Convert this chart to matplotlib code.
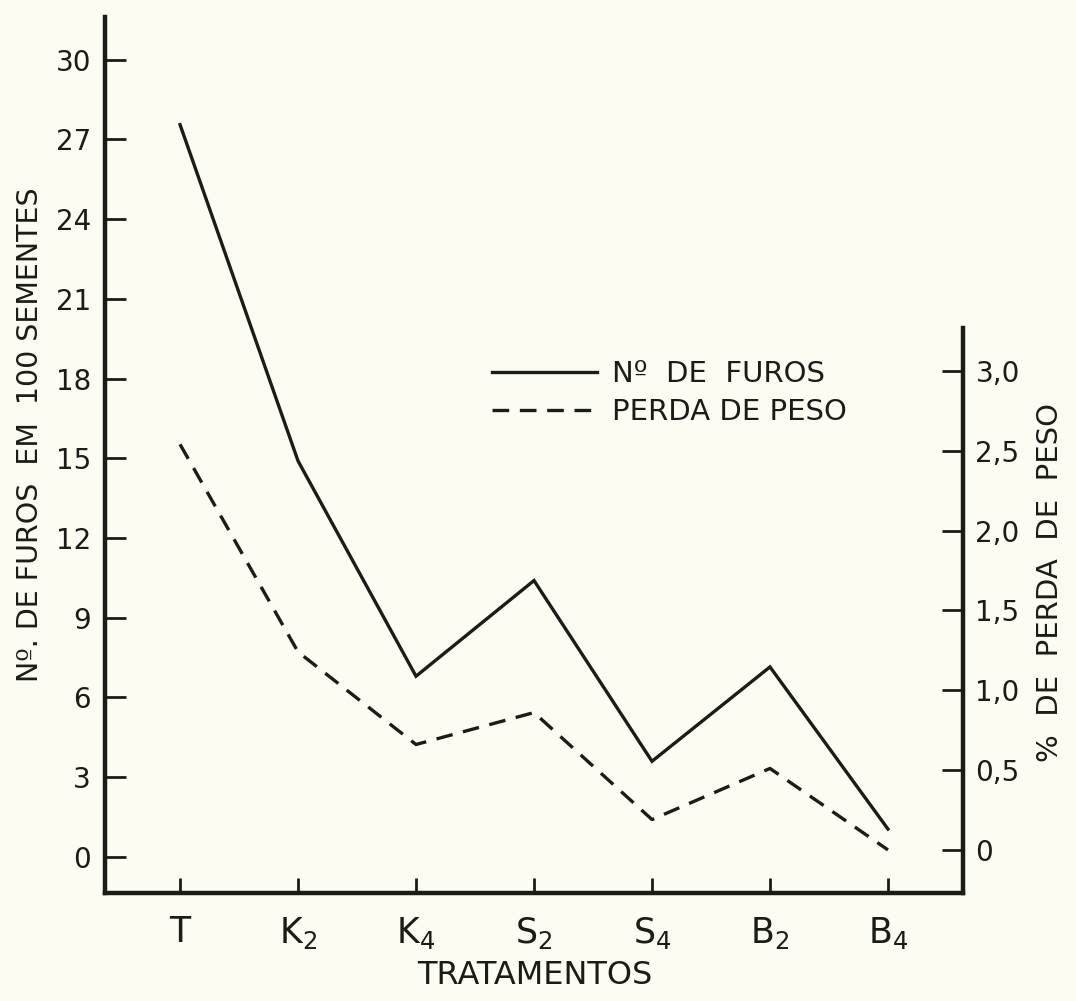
import numpy as np
import matplotlib
matplotlib.use("Agg")
import matplotlib.pyplot as plt

# dados
tratamentos = ["T", "K$_2$", "K$_4$", "S$_2$", "S$_4$", "B$_2$", "B$_4$"]
furos = [27.55, 14.9, 6.8, 10.4, 3.6, 7.15, 1.05]
perda_peso = [2.54, 1.24, 0.66, 0.86, 0.19, 0.51, 0.0]

left_ticks = [0, 3, 6, 9, 12, 15, 18, 21, 24, 27, 30]
right_ticks = [0, 0.5, 1.0, 1.5, 2.0, 2.5, 3.0]
right_labels = ["0", "0,5", "1,0", "1,5", "2,0", "2,5", "3,0"]

bg = "#fcfcf2"
ink = "#1c1c16"

plt.rcParams["font.family"] = ["DejaVu Sans"]
plt.rcParams["mathtext.default"] = "regular"

fig = plt.figure(figsize=(10.76, 10.01), dpi=100, facecolor=bg)
ax = fig.add_axes([105 / 1076, 1 - 893 / 1001, (963 - 105) / 1076, (893 - 17) / 1001])
ax.set_facecolor(bg)
ax2 = ax.twinx()

x = np.arange(len(tratamentos))
l1, = ax.plot(x, furos, color=ink, lw=2.4, solid_joinstyle="miter")
l2, = ax2.plot(x, perda_peso, color=ink, lw=2.4, dashes=(5, 3.2))

ax.set_xlim(-0.636, 6.636)
ax.set_ylim(-1.355, 31.6)
ax2.set_ylim(-0.27, 5.216)

for s in ["top", "right"]:
    ax.spines[s].set_visible(False)
for s in ["top", "left", "bottom"]:
    ax2.spines[s].set_visible(False)
for s in ["left", "bottom"]:
    ax.spines[s].set_linewidth(3.2)
    ax.spines[s].set_color(ink)
ax2.spines["right"].set_linewidth(3.2)
ax2.spines["right"].set_color(ink)
ax2.spines["right"].set_bounds(-0.27, 3.27)

ax.set_yticks(left_ticks)
ax.set_xticks(x)
ax.set_xticklabels(tratamentos)
ax.tick_params(axis="y", direction="in", length=15, width=2, pad=10,
               labelsize=20, colors=ink)
ax.tick_params(axis="x", direction="in", length=11, width=2, pad=16,
               labelsize=25, colors=ink)
ax2.set_yticks(right_ticks)
ax2.set_yticklabels(right_labels)
ax2.tick_params(axis="y", direction="in", length=15, width=2, pad=9,
                labelsize=20, colors=ink)

fig.text(30 / 1076, 1 - 435 / 1001, "Nº. DE FUROS  EM  100 SEMENTES", rotation=90,
         ha="center", va="center", fontsize=20.5, color=ink)
fig.text(1050 / 1076, 1 - 583 / 1001, "%  DE  PERDA  DE  PESO", rotation=90,
         ha="center", va="center", fontsize=21, color=ink)
fig.text(535 / 1076, 1 - 976 / 1001, "TRATAMENTOS", ha="center", va="center",
         fontsize=23, color=ink)

leg = ax.legend([l1, l2], ["Nº  DE  FUROS", "PERDA DE PESO"],
                loc="upper left", bbox_to_anchor=(466 / 1076, 1 - 334 / 1001),
                bbox_transform=fig.transFigure, frameon=False, fontsize=21,
                handlelength=3.6, handletextpad=0.5, labelspacing=0.35,
                labelcolor=ink)

fig.savefig("out.png", dpi=100, facecolor=bg)
